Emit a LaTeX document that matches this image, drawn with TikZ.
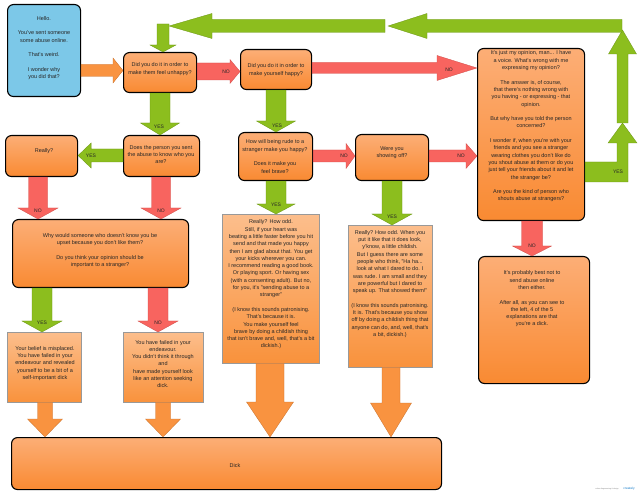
\documentclass[tikz,border=0pt]{standalone}
\usepackage{fontspec}
\setmainfont{Liberation Sans}
\usetikzlibrary{calc}
\definecolor{bluef}{HTML}{7CC8E8}
\definecolor{gfill}{HTML}{8CBE1E}
\definecolor{gline}{HTML}{6A9512}
\definecolor{rfill}{HTML}{F8645F}
\definecolor{rline}{HTML}{D04C48}
\definecolor{ofill}{HTML}{F99340}
\definecolor{oline}{HTML}{C8712C}
\definecolor{rtop}{HTML}{FCAE76}
\definecolor{rbot}{HTML}{F98A32}
\definecolor{qtop}{HTML}{FCBE8C}
\definecolor{qbot}{HTML}{F9923C}
\definecolor{txtc}{HTML}{262626}
\newcommand\barrow[6]{%
  \coordinate (ba) at #2; \coordinate (bt) at #3;
  \coordinate (bh) at ($(bt)!#6!(ba)$);
  \path[#1] ($(ba)!#4!90:(bt)$) -- ($(bh)!#4!-90:(ba)$) -- ($(bh)!#5!-90:(ba)$)
    -- (bt) -- ($(bh)!#5!90:(ba)$) -- ($(bh)!#4!90:(ba)$) -- ($(ba)!#4!-90:(bt)$) -- cycle;
}
\tikzset{
  rbox/.style={draw=black, line width=1.1pt, rounded corners=6pt, top color=rtop, bottom color=rbot, anchor=north west, inner sep=0pt},
  qbox/.style={draw=black!40, line width=0.4pt, top color=qtop, bottom color=qbot, anchor=north west, inner sep=0pt},
  bbox/.style={draw=black, line width=1.1pt, rounded corners=6pt, fill=bluef, anchor=north west, inner sep=0pt},
  txt/.style={align=center, font=\fontsize{5.5}{7.3}\selectfont, text=txtc, inner sep=0pt},
  lbl/.style={font=\fontsize{5}{6}\selectfont, text=txtc, inner sep=0pt},
  garr/.style={fill=gfill, draw=gline, line width=0.3pt},
  rarr/.style={fill=rfill, draw=rline, line width=0.3pt},
  oarr/.style={fill=ofill, draw=oline, line width=0.3pt},
}
\begin{document}
\begin{tikzpicture}[x=1pt,y=-1pt]
\useasboundingbox[fill=white] (0,0) rectangle (640,494);
% boxes
\node[bbox, minimum width=73pt, minimum height=92pt] (blue) at (7,4) {};
\node[rbox, minimum width=73pt, minimum height=40pt] (b1) at (123,52) {};
\node[rbox, minimum width=71pt, minimum height=40pt] (b2) at (240,49) {};
\node[rbox, minimum width=107pt, minimum height=172pt] (rt) at (477,48) {};
\node[rbox, minimum width=72pt, minimum height=41pt] (really) at (5,135) {};
\node[rbox, minimum width=76pt, minimum height=41pt] (does) at (123,135) {};
\node[rbox, minimum width=74pt, minimum height=48pt] (how) at (238,132) {};
\node[rbox, minimum width=73pt, minimum height=46pt] (were) at (355,134) {};
\node[rbox, minimum width=176pt, minimum height=68pt] (why) at (12,219) {};
\node[qbox, minimum width=74pt, minimum height=70pt] (belief) at (7,332) {};
\node[qbox, minimum width=80pt, minimum height=70pt] (failed) at (123,332) {};
\node[qbox, minimum width=97pt, minimum height=149pt] (tall1) at (222,214) {};
\node[qbox, minimum width=84pt, minimum height=142pt] (tall2) at (348,225) {};
\node[rbox, minimum width=111pt, minimum height=127pt] (prob) at (478,256) {};
\node[rbox, minimum width=430pt, minimum height=52pt] (dick) at (11,437) {};
% texts
\node[txt] (tblue) at (44,48) {Hello.\\[7.3pt]You've sent someone\\some abuse online.\\[7.3pt]That's weird.\\[7.3pt]I wonder why\\you did that?};
\node[txt] (tb1) at (160,69) {Did you do it in order to\\make them feel unhappy?};
\node[txt] (tb2) at (276,70) {Did you do it in order to\\make yourself happy?};
\node[txt] (trt) at (531,126.5) {It's just my opinion, man... I have\\a voice. What's wrong with me\\expressing my opinion?\\[7.3pt]The answer is, of course,\\that there's nothing wrong with\\you having - or expressing - that\\opinion.\\[7.3pt]But why have you told the person\\concerned?\\[7.3pt]I wonder if, when you're with your\\friends and you see a stranger\\wearing clothes you don't like do\\you shout abuse at them or do you\\just tell your friends about it and let\\the stranger be?\\[7.3pt]Are you the kind of person who\\shouts abuse at strangers?};
\node[txt] (treally) at (44,151) {Really?};
\node[txt] (tdoes) at (161,154.5) {Does the person you sent\\the abuse to know who you\\are?};
\node[txt] (thow) at (275,156.5) {How will being rude to a\\stranger make you happy?\\[7.3pt]Does it make you\\feel brave?};
\node[txt] (twere) at (392,153) {Were you\\showing off?};
\node[txt] (twhy) at (100,250.5) {Why would someone who doesn't know you be\\upset because you don't like them?\\[7.3pt]Do you think your opinion should be\\important to a stranger?};
\node[txt] (tbelief) at (45,363.5) {Your belief is misplaced.\\You have failed in your\\endeavour and revealed\\yourself to be a bit of a\\self-important dick};
\node[txt] (tfailed) at (163,364) {You have failed in your\\endeavour.\\You didn't think it through\\and\\have made yourself look\\like an attention seeking\\dick.};
\node[txt] (ttall1) at (271,284.5) {Really? How odd.\\Still, if your heart was\\beating a little faster before you hit\\send and that made you happy\\then I am glad about that. You get\\your kicks wherever you can.\\I recommend reading a good book.\\Or playing sport. Or having sex\\(with a consenting adult). But no,\\for you, it's "sending abuse to a\\stranger"\\[7.3pt](I know this sounds patronising.\\That's because it is.\\You make yourself feel\\brave by doing a childish thing\\that isn't brave and, well, that's a bit\\dickish.)};
\node[txt] (ttall2) at (390,284) {Really? How odd. When you\\put it like that it does look,\\y'know, a little childish.\\But I guess there are some\\people who think, "Ha ha...\\look at what I dared to do. I\\was rude. I am small and they\\are powerful but I dared to\\speak up. That showed them!"\\[7.3pt](I know this sounds patronising.\\It is. That's because you show\\off by doing a childish thing that\\anyone can do, and, well, that's\\a bit, dickish.)};
\node[txt] (tprob) at (532,299) {It's probably best not to\\send abuse online\\then either.\\[7.3pt]After all, as you can see to\\the left, 4 of the 5\\explanations are that\\you're a dick.};
\node[txt] (tdick) at (235,466) {Dick};
% arrows
\barrow{oarr}{(blue.east |- 0,70.5)}{(b1.west |- 0,70.5)}{6pt}{12.5pt}{10pt}
\barrow{rarr}{(b1.east |- 0,71.5)}{(b2.west |- 0,71.5)}{8.5pt}{12pt}{10pt}
\node[lbl] (l1) at (226,71.5) {NO};
\barrow{rarr}{(b2.east |- 0,68)}{(rt.west |- 0,68)}{5.5pt}{12.5pt}{40pt}
\node[lbl] (l2) at (449,70) {NO};
\barrow{garr}{(b1.south -| 160,0)}{(does.north -| 160,0)}{10pt}{19.5pt}{12pt}
\node[lbl] (l3) at (159,127) {YES};
\barrow{garr}{(does.west |- 0,155.5)}{(really.east |- 0,155.5)}{6.5pt}{12.5pt}{13pt}
\node[lbl] (l4) at (91,156) {YES};
\barrow{garr}{(b2.south -| 276,0)}{(how.north -| 276,0)}{10pt}{19.5pt}{11pt}
\node[lbl] (l5) at (277,126) {YES};
\barrow{rarr}{(how.east |- 0,156)}{(were.west |- 0,156)}{6pt}{12.5pt}{9pt}
\node[lbl] (l6) at (344,156) {NO};
\barrow{rarr}{(were.east |- 0,156)}{(rt.west |- 0,156)}{6pt}{12.5pt}{11pt}
\node[lbl] (l7) at (461,156) {NO};
\barrow{rarr}{(really.south -| 38,0)}{(why.north -| 38,0)}{9.5pt}{20pt}{11pt}
\node[lbl] (l8) at (38,211) {NO};
\barrow{rarr}{(does.south -| 161,0)}{(why.north -| 161,0)}{9.5pt}{20pt}{11pt}
\node[lbl] (l9) at (161,211) {NO};
\barrow{garr}{(why.south -| 42,0)}{(belief.north -| 42,0)}{10pt}{20pt}{11pt}
\node[lbl] (l10) at (42,323) {YES};
\barrow{rarr}{(why.south -| 158,0)}{(failed.north -| 158,0)}{10pt}{20pt}{11pt}
\node[lbl] (l11) at (158,323) {NO};
\barrow{oarr}{(belief.south -| 45,0)}{(dick.north -| 45,0)}{7.5pt}{17.5pt}{18pt}
\barrow{oarr}{(failed.south -| 163,0)}{(dick.north -| 163,0)}{7.5pt}{17.5pt}{18pt}
\barrow{garr}{(how.south -| 276,0)}{(tall1.north -| 276,0)}{10pt}{19pt}{10pt}
\node[lbl] (l12) at (276,205) {YES};
\barrow{oarr}{(tall1.south -| 270,0)}{(dick.north -| 270,0)}{14pt}{23.5pt}{35pt}
\barrow{garr}{(were.south -| 392,0)}{(tall2.north -| 392,0)}{10pt}{20pt}{11pt}
\node[lbl] (l13) at (392,217) {YES};
\barrow{oarr}{(tall2.south -| 391,0)}{(dick.north -| 391,0)}{9pt}{20.5pt}{34pt}
\barrow{rarr}{(rt.south -| 532,0)}{(prob.north -| 532,0)}{10.5pt}{19.5pt}{10pt}
\node[lbl] (l14) at (532,246) {NO};
% loop back
\coordinate (c1) at (622.5,123);
\coordinate (c2) at (622.5,30);
\path[garr] (rt.east |- 0,162) -- (617,162) -- (617,143) -- (608,143) -- (c1) -- (637,143) -- (628,143) -- (628,182) -- (rt.east |- 0,182) -- cycle;
\node[lbl] (l15) at (618,172) {YES};
\barrow{garr}{(c1)}{(c2)}{5.5pt}{14pt}{24pt}
\coordinate (c3) at (622,26);
\coordinate (c4) at (388,26);
\coordinate (c5) at (385,26);
\coordinate (c6) at (169,26);
\coordinate (c7) at (163,24);
\barrow{garr}{(c3)}{(c4)}{6.5pt}{12.5pt}{39pt}
\barrow{garr}{(c5)}{(c6)}{6.5pt}{12.5pt}{43pt}
\barrow{garr}{(c7)}{(b1.north -| 163,0)}{6pt}{13pt}{7pt}
% watermark
\node[font=\fontsize{1.8}{2}\selectfont, text=black!50, inner sep=0pt] (wm1) at (607,489) {online diagramming \& design};
\node[font=\fontsize{3.2}{3.5}\selectfont, text=cyan!60!blue, inner sep=0pt] (wm2) at (629,488.5) {creately};
\end{tikzpicture}
\end{document}
